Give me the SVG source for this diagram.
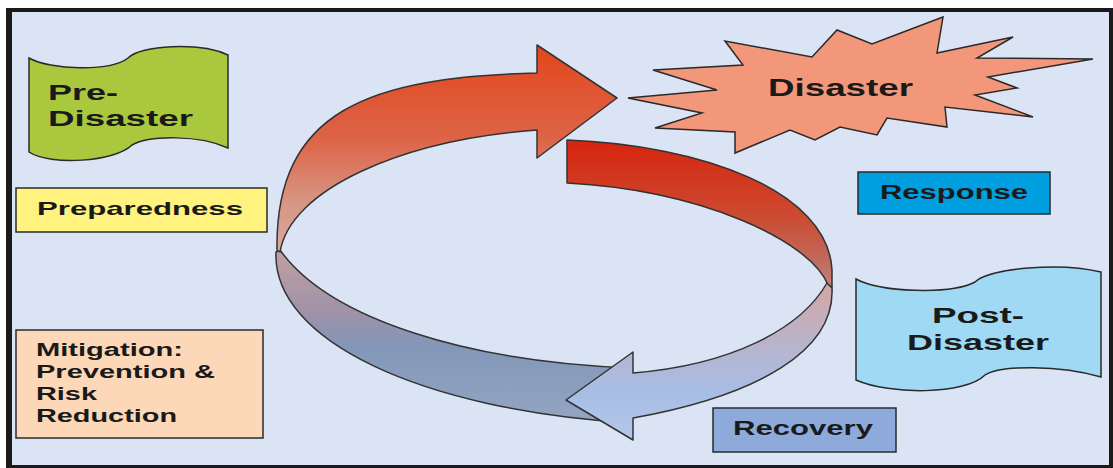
<svg xmlns="http://www.w3.org/2000/svg" width="1113" height="468" viewBox="0 0 1113 468">
<defs>
<style>
.t{font-family:"Liberation Sans",Arial,sans-serif;font-weight:bold;fill:#1a1a1a;}
.box{stroke:#2a2a2a;stroke-width:1.5;}
.rib{stroke:#333;stroke-width:1.5;stroke-linejoin:round;}
</style>
<linearGradient id="gOrange" gradientUnits="userSpaceOnUse" x1="0" y1="45" x2="0" y2="255">
<stop offset="0" stop-color="#e2461c"/><stop offset="0.45" stop-color="#dd6448"/><stop offset="0.75" stop-color="#d79684"/><stop offset="1" stop-color="#d9aaa3"/>
</linearGradient>
<linearGradient id="gRed" gradientUnits="userSpaceOnUse" x1="0" y1="140" x2="0" y2="290">
<stop offset="0" stop-color="#d8240e"/><stop offset="0.5" stop-color="#cc4a30"/><stop offset="0.8" stop-color="#c06a5c"/><stop offset="1" stop-color="#c4847e"/>
</linearGradient>
<linearGradient id="gFront" gradientUnits="userSpaceOnUse" x1="0" y1="280" x2="0" y2="440">
<stop offset="0" stop-color="#d6a4a2"/><stop offset="0.4" stop-color="#b8b4cc"/><stop offset="0.7" stop-color="#a8bde4"/><stop offset="1" stop-color="#b4c8ea"/>
</linearGradient>
<linearGradient id="gBack" gradientUnits="userSpaceOnUse" x1="0" y1="250" x2="0" y2="425">
<stop offset="0" stop-color="#c0a0a0"/><stop offset="0.35" stop-color="#a092a8"/><stop offset="0.55" stop-color="#8296b8"/><stop offset="1" stop-color="#94a6c2"/>
</linearGradient>
</defs>
<rect x="0" y="0" width="1113" height="468" fill="#ffffff"/>
<rect x="6" y="8" width="1107" height="460" fill="#1a1a1a"/>
<rect x="12" y="12" width="1097" height="453" fill="#dbe4f4"/>

<g id="connectors">
<path class="rib" fill="url(#gBack)" d="M 280,250 C 330,320 470,362 632,368 L 632,423 C 420,410 272,340 276,252 Z"/>
<path class="rib" fill="url(#gRed)" d="M 567,140 C 700,145 828,190 832,270 L 832,288 L 828,285 C 810,240 700,190 567,183 Z"/>
<path class="rib" fill="url(#gOrange)" d="M 280,252 L 277,250 C 275,110 370,77 537,73 L 537,45 L 617,98 L 537,158 L 537,130 C 400,140 290,190 280,252 Z"/>
<path class="rib" fill="url(#gFront)" d="M 827,283 L 832,288 C 835,350 760,395 633,418 L 633,440 L 566,400 L 633,352 L 633,373 C 730,365 800,330 827,283 Z"/>
</g>

<g id="pre-disaster">
<path class="box" fill="#a9c83d" d="M 29,58 C 50,70 110,72 128,58 C 140,45 200,42 228,55 L 228,148 C 200,135 150,135 132,145 C 115,162 50,166 29,152 Z"/>
<text class="t" x="48" y="100" font-size="22" textLength="70" lengthAdjust="spacingAndGlyphs">Pre-</text>
<text class="t" x="48" y="126" font-size="22" textLength="145" lengthAdjust="spacingAndGlyphs">Disaster</text>
</g>

<g id="preparedness">
<rect class="box" x="16" y="188" width="251" height="44" fill="#fff27e"/>
<text class="t" x="37" y="215" font-size="19" textLength="206" lengthAdjust="spacingAndGlyphs">Preparedness</text>
</g>

<g id="mitigation">
<rect class="box" x="16" y="330" width="247" height="108" fill="#fcd7b8"/>
<text class="t" x="36" y="356" font-size="18" textLength="147" lengthAdjust="spacingAndGlyphs">Mitigation:</text>
<text class="t" x="36" y="378" font-size="18" textLength="179" lengthAdjust="spacingAndGlyphs">Prevention &amp;</text>
<text class="t" x="36" y="400" font-size="18" textLength="61" lengthAdjust="spacingAndGlyphs">Risk</text>
<text class="t" x="36" y="422" font-size="18" textLength="141" lengthAdjust="spacingAndGlyphs">Reduction</text>
</g>

<g id="disaster">
<polygon class="box" fill="#f3977a" points="628,98 717,90 653,70 743,65 725,41 812,57 837,30 872,44 943,17 937,53 1013,37 977,58 1093,59 988,77 1017,88 975,95 1033,117 945,107 947,127 887,118 877,135 840,127 815,140 790,130 735,153 735,132 655,128 702,113"/>
<text class="t" x="768" y="96" font-size="24" textLength="145" lengthAdjust="spacingAndGlyphs">Disaster</text>
</g>

<g id="response">
<rect class="box" x="858" y="172" width="192" height="42" fill="#009fdf"/>
<text class="t" x="880" y="199" font-size="20" textLength="148" lengthAdjust="spacingAndGlyphs">Response</text>
</g>

<g id="post-disaster">
<path class="box" fill="#9fd9f4" d="M 856,279 C 880,292 950,295 975,282 C 990,268 1060,262 1101,272 L 1101,377 C 1060,365 1000,365 985,375 C 965,395 890,395 856,380 Z"/>
<text class="t" x="932" y="323" font-size="22" textLength="92" lengthAdjust="spacingAndGlyphs">Post-</text>
<text class="t" x="907" y="350" font-size="22" textLength="142" lengthAdjust="spacingAndGlyphs">Disaster</text>
</g>

<g id="recovery">
<rect class="box" x="713" y="408" width="183" height="44" fill="#8eaadb"/>
<text class="t" x="733" y="435" font-size="20" textLength="140" lengthAdjust="spacingAndGlyphs">Recovery</text>
</g>
</svg>
